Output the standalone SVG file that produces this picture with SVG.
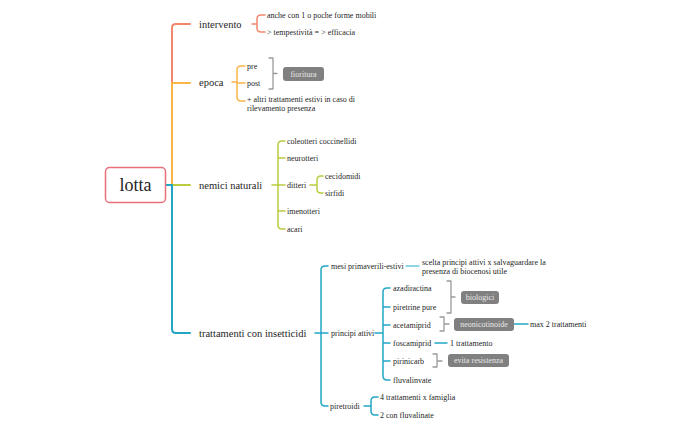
<svg xmlns="http://www.w3.org/2000/svg" width="695" height="430" viewBox="0 0 695 430">
<style>
text{font-family:"Liberation Serif","Times New Roman",serif;fill:#262626;dominant-baseline:central}
.m{font-size:10.5px}
.s{font-size:8px}
.r{font-size:18px;text-anchor:middle}
.t{font-size:8px;fill:#e8e8e8;text-anchor:middle}
.c{fill:none;stroke-linecap:round;stroke-linejoin:round}
.c1{stroke:#f4876b;stroke-width:2}
.c2{stroke:#f9b548;stroke-width:2}
.c3{stroke:#bacc3e;stroke-width:2}
.c4{stroke:#22a6c6;stroke-width:2}
.sub1{stroke:#f4876b;stroke-width:1.5}
.sub2{stroke:#f9b548;stroke-width:1.5}
.sub3{stroke:#bacc3e;stroke-width:1.5}
.sub4{stroke:#22a6c6;stroke-width:1.5}
.lb{stroke:#6cc7de;stroke-width:1.5}
.g{stroke:#9a9a9a;stroke-width:1.3}
.box{fill:#808080}
</style>
<rect width="695" height="430" fill="#fff"/>
<g id="connectors" class="c">
<path class="c1" d="M190,24 H176 Q172,24 172,28 V83"/>
<path class="c2" d="M172,83 V185 M172,83 H190"/>
<path class="c3" d="M172,185 H190"/>
<path class="c4" d="M166,185 H172 V329 Q172,333 176,333 H190"/>
<path class="sub1" d="M252,24 H257 M265,15 H261 Q257,15 257,19 V28 Q257,32 261,32 H265"/>
<path class="sub2" d="M232,82 H237 M245,66 H241 Q237,66 237,70 V97 Q237,101 241,101 H245 M237,83 H245"/>
<path class="sub3" d="M272,185 H278 M285,141 H282 Q278,141 278,145 V225 Q278,229 282,229 H285 M278,158 H285 M278,185 H285 M278,211 H285"/>
<path class="sub3" d="M310,185 H317 M323,176 H321 Q317,176 317,180 V189 Q317,193 321,193 H323"/>
<path class="sub4" d="M315,333 H321 M328,266 H325 Q321,266 321,270 V402 Q321,406 325,406 H328 M321,333 H328"/>
<path class="lb" d="M406,266 H419"/>
<path class="sub4" d="M375,333 H383 M390,288 H387 Q383,288 383,292 V376 Q383,380 387,380 H390 M383,307 H390 M383,325 H390 M383,343 H390 M383,361 H390"/>
<path class="sub4" d="M514,324 H528 M435,343 H447"/>
<path class="sub4" d="M364,406 H371 M378,397 H375 Q371,397 371,401 V411 Q371,415 375,415 H378"/>
<path class="g" d="M269,58 H273 V89 H269 M273,73.5 H277"/>
<path class="g" d="M447,281 H451 V313 H447 M451,297 H455"/>
<path class="g" d="M440,317 H444 V331 H440 M444,324 H449"/>
<path class="g" d="M433,354 H437 V367 H433 M437,361 H442"/>
</g>
<g id="lotta">
<rect x="105.5" y="167.5" width="60" height="35" rx="4" fill="#fff" stroke="#ea6f78" stroke-width="1.5"/>
<text class="r" x="135.5" y="185">lotta</text>
</g>
<g id="intervento">
<text class="m" x="199" y="24">intervento</text>
<text class="s" x="267" y="15">anche con 1 o poche forme mobili</text>
<text class="s" x="267" y="32">&gt; tempestività = &gt; efficacia</text>
</g>
<g id="epoca">
<text class="m" x="199" y="82">epoca</text>
<text class="s" x="247" y="66">pre</text>
<text class="s" x="247" y="83">post</text>
<text class="s" x="247" y="99">+ altri trattamenti estivi in caso di</text>
<text class="s" x="247" y="108">rilevamento presenza</text>
</g>
<g id="fioritura">
<rect class="box" x="283" y="67" width="41" height="14" rx="3"/>
<text class="t" x="303.5" y="74">fioritura</text>
</g>
<g id="nemici-naturali">
<text class="m" x="199" y="185">nemici naturali</text>
<text class="s" x="287" y="141">coleotteri coccinellidi</text>
<text class="s" x="287" y="158">neurotteri</text>
<text class="s" x="287" y="185">ditteri</text>
<text class="s" x="287" y="211">imenotteri</text>
<text class="s" x="287" y="229">acari</text>
<text class="s" x="325" y="176">cecidomidi</text>
<text class="s" x="325" y="193">sirfidi</text>
</g>
<g id="trattamenti">
<text class="m" x="199" y="333">trattamenti con insetticidi</text>
<text class="s" x="331" y="266">mesi primaverili-estivi</text>
<text class="s" x="422" y="262">scelta principi attivi x salvaguardare la</text>
<text class="s" x="422" y="271">presenza di biocenosi utile</text>
<text class="s" x="331" y="333">principi attivi</text>
<text class="s" x="393" y="288">azadiractina</text>
<text class="s" x="393" y="307">piretrine pure</text>
<text class="s" x="393" y="325">acetamiprid</text>
<text class="s" x="393" y="343">foscamiprid</text>
<text class="s" x="450" y="343">1 trattamento</text>
<text class="s" x="393" y="361">pirinicarb</text>
<text class="s" x="393" y="380">fluvalinvate</text>
<text class="s" x="530" y="324">max 2 trattamenti</text>
<text class="s" x="330" y="406">piretroidi</text>
<text class="s" x="380" y="397">4 trattamenti x famiglia</text>
<text class="s" x="380" y="415">2 con fluvalinate</text>
</g>
<g id="biologici">
<rect class="box" x="461" y="291" width="38" height="13" rx="3"/>
<text class="t" x="480" y="297.5">biologici</text>
</g>
<g id="neonicotinoide">
<rect class="box" x="454" y="318" width="60" height="13" rx="3"/>
<text class="t" x="484" y="324.5">neonicotinoide</text>
</g>
<g id="evita-resistenza">
<rect class="box" x="448" y="354" width="61" height="13" rx="3"/>
<text class="t" x="478.5" y="360.5">evita resistenza</text>
</g>
</svg>
